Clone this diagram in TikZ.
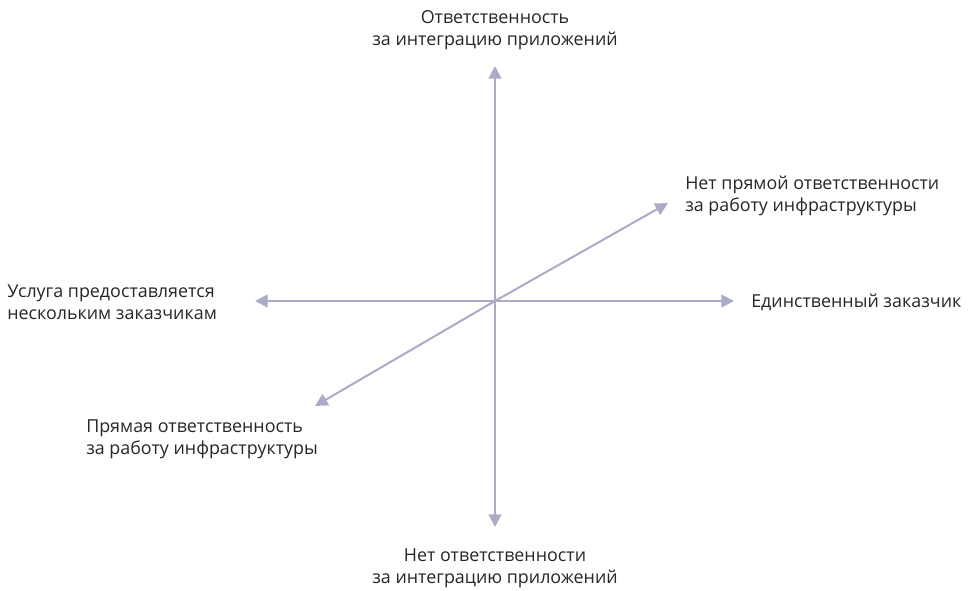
\documentclass[tikz,border=0pt]{standalone}
\usepackage{fontspec}
\setmainfont{Open Sans}
\usetikzlibrary{arrows.meta}
\begin{document}
\begin{tikzpicture}[x=0.75pt,y=-0.75pt,
  axis/.style={draw=axiscol,line width=1.5pt,-{Triangle[length=9.5pt,width=9.5pt]}},
  lbl/.style={font=\fontsize{13.4}{16.5}\selectfont,text=black!85,inner sep=0pt,align=left},
  clbl/.style={lbl,align=center}]
\definecolor{axiscol}{HTML}{ABABC8}
\useasboundingbox (0,0) rectangle (971,590);
\coordinate (o) at (495,301);
\coordinate (up) at (495,66);
\coordinate (down) at (495,527);
\coordinate (left) at (255,301);
\coordinate (right) at (734,301);
\coordinate (ne) at (668,203);
\coordinate (sw) at (315,406);
\draw[axis] (o) -- (up);
\draw[axis] (o) -- (down);
\draw[axis] (o) -- (left);
\draw[axis] (o) -- (right);
\draw[axis] (o) -- (ne);
\draw[axis] (o) -- (sw);
\node[clbl] (tup) at (495,30) {Ответственность\\за интеграцию приложений};
\node[clbl] (tdown) at (495,568) {Нет ответственности\\за интеграцию приложений};
\node[lbl,anchor=west] (tleft) at (7,302) {Услуга предоставляется\\нескольким заказчикам};
\node[lbl,anchor=west] (tright) at (751,302) {Единственный заказчик};
\node[lbl,anchor=west] (tne) at (685,196) {Нет прямой ответственности\\за работу инфраструктуры};
\node[lbl,anchor=west] (tsw) at (86,439) {Прямая ответственность\\за работу инфраструктуры};
\end{tikzpicture}
\end{document}
